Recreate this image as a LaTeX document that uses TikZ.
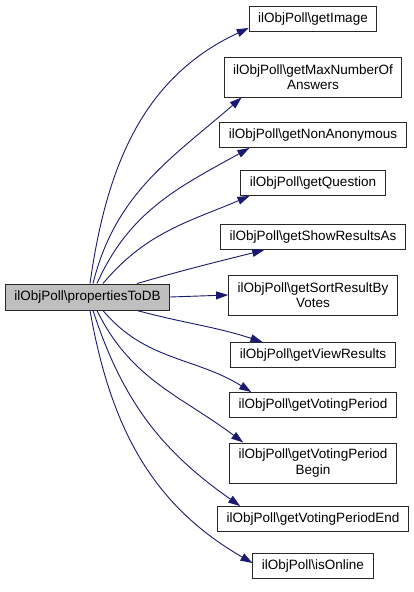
\documentclass[tikz,border=0pt]{standalone}
\usepackage{fontspec}
\setmainfont{Liberation Sans}
\usepackage{xcolor}
\usepackage{tikz}
\usetikzlibrary{arrows.meta, positioning}
\definecolor{callblue}{RGB}{25,25,112}
\definecolor{dark}{RGB}{40,40,40}
\definecolor{current}{RGB}{191,191,191}
\tikzset{
    func/.style={rectangle, draw=dark, line width=1pt, fill=white, inner xsep=9pt, inner ysep=0pt, minimum height=25pt, align=center, font=\fontsize{13.5}{15.5}\selectfont},
    caller/.style={func, fill=current, minimum height=26pt},
    call/.style={-{Triangle[length=12pt,width=8pt]}, line width=0.9pt, color=callblue}
}

\begin{document}
\begin{tikzpicture}[x=1pt, y=-1pt,
    twoline/.style={minimum height=40pt}
]
    \useasboundingbox (0,0) rectangle (413,592);

    % Caller
    \node[caller] (todb) at (87.5,297) {ilObjPoll\textbackslash propertiesToDB};

    % Callees
    \node[func] (image) at (313,19) {ilObjPoll\textbackslash getImage};
    \node[func, twoline] (maxnum) at (313,77) {ilObjPoll\textbackslash getMaxNumberOf\\ Answers};
    \node[func] (nonanon) at (313,135) {ilObjPoll\textbackslash getNonAnonymous};
    \node[func] (question) at (313,183) {ilObjPoll\textbackslash getQuestion};
    \node[func] (showres) at (313,237) {ilObjPoll\textbackslash getShowResultsAs};
    \node[func, twoline] (sortres) at (313,295) {ilObjPoll\textbackslash getSortResultBy\\ Votes};
    \node[func] (viewres) at (313,355) {ilObjPoll\textbackslash getViewResults};
    \node[func] (period) at (313,405) {ilObjPoll\textbackslash getVotingPeriod};
    \node[func, twoline] (pbegin) at (313,463) {ilObjPoll\textbackslash getVotingPeriod\\ Begin};
    \node[func] (pend) at (313,519) {ilObjPoll\textbackslash getVotingPeriodEnd};
    \node[func] (online) at (313,566) {ilObjPoll\textbackslash isOnline};

    % Calls
    \draw[call] ([xshift=2.5pt]todb.north) to[out=82, in=205] ([yshift=-9pt]image.west);
    \draw[call] ([xshift=5.5pt]todb.north) to[out=76, in=221] ([xshift=18pt]maxnum.south west);
    \draw[call] ([xshift=9.5pt]todb.north) to[out=66, in=209] ([xshift=30pt]nonanon.south west);
    \draw[call] ([xshift=15.5pt]todb.north) to[out=50, in=203] ([xshift=9pt]question.south west);
    \draw[call] ([xshift=49.5pt]todb.north) to[out=16, in=194] ([xshift=44pt]showres.south west);
    \draw[call] (todb.east) -- (sortres.west);
    \draw[call] ([xshift=49.5pt]todb.south) to[out=-15, in=162] ([xshift=32pt]viewres.north west);
    \draw[call] ([xshift=15.5pt]todb.south) to[out=-50, in=148] ([xshift=22pt]period.north west);
    \draw[call] ([xshift=9.5pt]todb.south) to[out=-64, in=143] ([xshift=14pt]pbegin.north west);
    \draw[call] ([xshift=5.5pt]todb.south) to[out=-72, in=145] ([xshift=23pt]pend.north west);
    \draw[call] ([xshift=2.5pt]todb.south) to[out=-80, in=150] ([yshift=3pt]online.west);
\end{tikzpicture}
\end{document}
